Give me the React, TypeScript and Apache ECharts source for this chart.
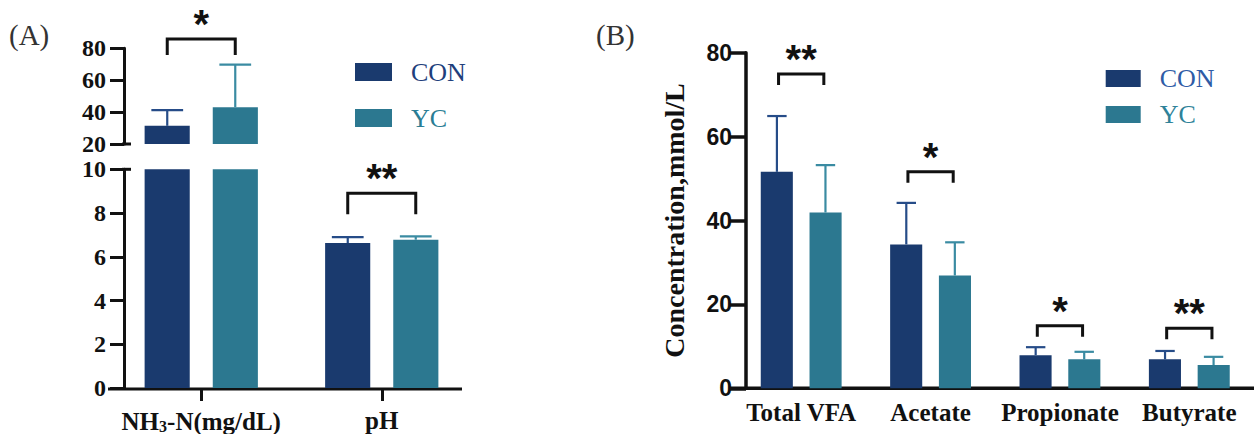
import React, { useEffect, useRef } from "react";
import * as echarts from "echarts";

// ---------- Panel A data ----------
const catsA = ["NH3-N(mg/dL)", "pH"];
const conA = [31.4, 6.63];
const conAErr = [9.8, 0.27];
const ycA = [43.1, 6.78];
const ycAErr = [26.7, 0.15];
const sigA = ["*", "**"];
const bracketA = [85.8, 8.9];
const ticksATop = [20, 80, 20]; // min, max, interval
const ticksABottom = [0, 10, 2];

// ---------- Panel B data ----------
const catsB = ["Total VFA", "Acetate", "Propionate", "Butyrate"];
const conB = [51.6, 34.3, 7.9, 6.9];
const conBErr = [13.3, 9.9, 1.9, 2.0];
const ycB = [41.9, 26.9, 6.9, 5.55];
const ycBErr = [11.3, 7.9, 1.8, 1.95];
const sigB = ["**", "*", "*", "**"];
const bracketB = [74.9, 51.6, 14.9, 14.3];
const ticksB = [0, 80, 20];

const CON = "#1a3a6e";
const YC = "#2c7890";
const CON_ERR = "#264c88";
const YC_ERR = "#3a8ba2";
const INK = "#111111";
const SERIF = "Liberation Serif";
const SANS = "Liberation Sans";

function errorSeries(
  xi: number,
  yi: number,
  means: number[],
  errs: number[],
  lo: number,
  hi: number,
  sign: number,
  frac: number,
  capFrac: number,
  color: string
) {
  const data = means
    .map((m, i) => [i, m, m + errs[i]])
    .filter((d) => d[1] >= lo && d[2] <= hi);
  return {
    type: "custom",
    xAxisIndex: xi,
    yAxisIndex: yi,
    silent: true,
    z: 3,
    encode: { x: 0, y: 1 },
    data,
    renderItem: (params: any, api: any) => {
      const ci = api.value(0);
      const c1 = api.coord([ci, api.value(1)]);
      const c2 = api.coord([ci, api.value(2)]);
      const band = api.size([1, 0])[0];
      const x = c1[0] + sign * band * frac;
      const cap = band * capFrac;
      return {
        type: "group",
        children: [
          {
            type: "line",
            shape: { x1: x, y1: c1[1], x2: x, y2: c2[1] },
            style: { stroke: color, lineWidth: 2.2 },
          },
          {
            type: "line",
            shape: { x1: x - cap, y1: c2[1], x2: x + cap, y2: c2[1] },
            style: { stroke: color, lineWidth: 2.2 },
          },
        ],
      };
    },
  };
}

function bracketSeries(
  xi: number,
  yi: number,
  levels: number[],
  sigs: string[],
  lo: number,
  hi: number,
  frac: number,
  leg: number
) {
  const data = levels
    .map((v, i) => [i, v, i])
    .filter((d) => d[1] >= lo && d[1] <= hi);
  return {
    type: "custom",
    xAxisIndex: xi,
    yAxisIndex: yi,
    silent: true,
    z: 5,
    clip: false,
    encode: { x: 0, y: 1 },
    data,
    renderItem: (params: any, api: any) => {
      const ci = api.value(0);
      const c = api.coord([ci, api.value(1)]);
      const band = api.size([1, 0])[0];
      const half = band * frac;
      const s = String(sigs[api.value(2)]);
      return {
        type: "group",
        children: [
          {
            type: "polyline",
            shape: {
              points: [
                [c[0] - half, c[1] + leg],
                [c[0] - half, c[1]],
                [c[0] + half, c[1]],
                [c[0] + half, c[1] + leg],
              ],
            },
            style: { stroke: INK, lineWidth: 3, fill: null },
          },
          {
            type: "text",
            style: {
              text: s,
              x: c[0],
              y: c[1] - 15,
              align: "center",
              verticalAlign: "middle",
              fontSize: 40,
              fontWeight: "bold",
              fontFamily: SANS,
              fill: INK,
            },
          },
        ],
      };
    },
  };
}

export default function App() {
  const ref = useRef<HTMLDivElement>(null);

  useEffect(() => {
    if (!ref.current) return;
    const chart = echarts.init(ref.current, undefined, { renderer: "svg" });

    const yLabelA = {
      fontFamily: SERIF,
      fontWeight: "bold",
      fontSize: 24,
      lineHeight: 22,
      color: INK,
      margin: 18,
    };
    const axisLine = { show: true, lineStyle: { color: INK, width: 3 } };
    const axisTick = { show: true, length: 14, lineStyle: { color: INK, width: 3 } };

    const option: any = {
      animation: false,
      backgroundColor: "#ffffff",
      grid: [
        { left: 111, top: 48.3, width: 361, height: 95.7 },
        { left: 111, top: 169.3, width: 361, height: 219.7 },
        { left: 736.5, top: 52.7, width: 532.8, height: 335.6 },
      ],
      xAxis: [
        { type: "category", gridIndex: 0, data: catsA, show: false },
        {
          type: "category",
          gridIndex: 1,
          data: catsA,
          axisLine: { show: false },
          axisTick: { show: true, alignWithLabel: true, length: 13, lineStyle: { color: INK, width: 3 } },
          axisLabel: {
            margin: 20,
            interval: 0,
            formatter: (v: string) =>
              v.startsWith("NH3") ? "{b|NH}{s|3}{b|" + v.slice(3) + "}" : "{b|" + v + "}",
            rich: {
              b: { fontFamily: SERIF, fontWeight: "bold", fontSize: 25, color: INK },
              s: {
                fontFamily: SERIF,
                fontWeight: "bold",
                fontSize: 16,
                color: INK,
                verticalAlign: "bottom",
                padding: [10, 0, 0, 0],
              },
            },
          },
        },
        {
          type: "category",
          gridIndex: 2,
          data: catsB,
          axisLine: { show: false },
          axisTick: { show: false },
          axisLabel: {
            margin: 12,
            interval: 0,
            fontFamily: SERIF,
            fontWeight: "bold",
            fontSize: 25,
            color: INK,
          },
        },
      ],
      yAxis: [
        {
          type: "value",
          gridIndex: 0,
          min: ticksATop[0],
          max: ticksATop[1],
          interval: ticksATop[2],
          offset: -13,
          splitLine: { show: false },
          axisLine,
          axisTick,
          axisLabel: yLabelA,
        },
        {
          type: "value",
          gridIndex: 1,
          min: ticksABottom[0],
          max: ticksABottom[1],
          interval: ticksABottom[2],
          offset: -13,
          splitLine: { show: false },
          axisLine,
          axisTick,
          axisLabel: yLabelA,
        },
        {
          type: "value",
          gridIndex: 2,
          min: ticksB[0],
          max: ticksB[1],
          interval: ticksB[2],
          offset: -9.5,
          splitLine: { show: false },
          axisLine: { show: true, lineStyle: { color: INK, width: 3.5 } },
          axisTick: { show: true, length: 16, lineStyle: { color: INK, width: 3.5 } },
          axisLabel: {
            fontFamily: SANS,
            fontWeight: "bold",
            fontSize: 23,
            color: INK,
            margin: 14,
          },
          name: "Concentration,mmol/L",
          nameLocation: "middle",
          nameRotate: 90,
          nameGap: 58,
          nameTextStyle: {
            fontFamily: SERIF,
            fontWeight: "bold",
            fontSize: 28,
            color: INK,
          },
        },
      ],
      legend: [
        {
          left: 355,
          top: 59,
          orient: "vertical",
          padding: 0,
          icon: "rect",
          itemWidth: 37,
          itemHeight: 18,
          itemGap: 20,
          selectedMode: false,
          textStyle: { fontFamily: SERIF, fontSize: 26, padding: [0, 0, 0, 14] },
          data: [
            { name: "CON", textStyle: { color: "#1f3f7c" } },
            { name: "YC", textStyle: { color: "#2a7d94" } },
          ],
        },
        {
          left: 1105.7,
          top: 65.5,
          orient: "vertical",
          padding: 0,
          icon: "rect",
          itemWidth: 35,
          itemHeight: 17,
          itemGap: 10,
          selectedMode: false,
          textStyle: { fontFamily: SERIF, fontSize: 26, padding: [0, 0, 0, 14] },
          data: [
            { name: "CON", textStyle: { color: "#2f5ca6" } },
            { name: "YC", textStyle: { color: "#2e8299" } },
          ],
        },
      ],
      graphic: [
        {
          type: "text",
          x: 9,
          y: 35,
          style: { text: "(A)", font: "29px " + SERIF, fill: "#333", verticalAlign: "middle" },
        },
        {
          type: "text",
          x: 596,
          y: 35,
          style: { text: "(B)", font: "29px " + SERIF, fill: "#333", verticalAlign: "middle" },
        },
        {
          type: "line",
          shape: { x1: 108, y1: 389, x2: 462, y2: 389 },
          style: { stroke: INK, lineWidth: 3 },
        },
        {
          type: "line",
          shape: { x1: 730, y1: 388.3, x2: 1254, y2: 388.3 },
          style: { stroke: INK, lineWidth: 3.5 },
        },
        {
          type: "line",
          shape: { x1: 122, y1: 144, x2: 131, y2: 144 },
          style: { stroke: INK, lineWidth: 3 },
        },
        {
          type: "line",
          shape: { x1: 122, y1: 169.3, x2: 131, y2: 169.3 },
          style: { stroke: INK, lineWidth: 3 },
        },
      ],
      series: [
        { name: "CON", type: "bar", xAxisIndex: 0, yAxisIndex: 0, data: conA, barWidth: "25%", barGap: "51%", itemStyle: { color: CON }, clip: true },
        { name: "YC", type: "bar", xAxisIndex: 0, yAxisIndex: 0, data: ycA, barWidth: "25%", barGap: "51%", itemStyle: { color: YC }, clip: true },
        { name: "CON", type: "bar", xAxisIndex: 1, yAxisIndex: 1, data: conA, barWidth: "25%", barGap: "51%", itemStyle: { color: CON }, clip: true },
        { name: "YC", type: "bar", xAxisIndex: 1, yAxisIndex: 1, data: ycA, barWidth: "25%", barGap: "51%", itemStyle: { color: YC }, clip: true },
        { name: "CON", type: "bar", xAxisIndex: 2, yAxisIndex: 2, data: conB, barWidth: "24.8%", barGap: "52%", itemStyle: { color: CON }, clip: true },
        { name: "YC", type: "bar", xAxisIndex: 2, yAxisIndex: 2, data: ycB, barWidth: "24.8%", barGap: "52%", itemStyle: { color: YC }, clip: true },
        errorSeries(0, 0, conA, conAErr, 20, 80, -1, 0.1884, 0.088, CON_ERR),
        errorSeries(0, 0, ycA, ycAErr, 20, 80, 1, 0.1884, 0.088, YC_ERR),
        errorSeries(1, 1, conA, conAErr, 0, 10, -1, 0.1884, 0.088, CON_ERR),
        errorSeries(1, 1, ycA, ycAErr, 0, 10, 1, 0.1884, 0.088, YC_ERR),
        errorSeries(2, 2, conB, conBErr, 0, 80, -1, 0.1876, 0.075, CON_ERR),
        errorSeries(2, 2, ycB, ycBErr, 0, 80, 1, 0.1876, 0.075, YC_ERR),
        bracketSeries(0, 0, bracketA, sigA, 20, 100, 0.1884, 16),
        bracketSeries(1, 1, bracketA, sigA, 0, 10, 0.1884, 21),
        bracketSeries(2, 2, bracketB, sigB, 0, 100, 0.175, 11),
      ],
    };

    chart.setOption(option);
    return () => chart.dispose();
  }, []);

  return (
    <div
      ref={ref}
      style={{ position: "absolute", left: 0, top: 0, width: 1254, height: 434 }}
    />
  );
}
